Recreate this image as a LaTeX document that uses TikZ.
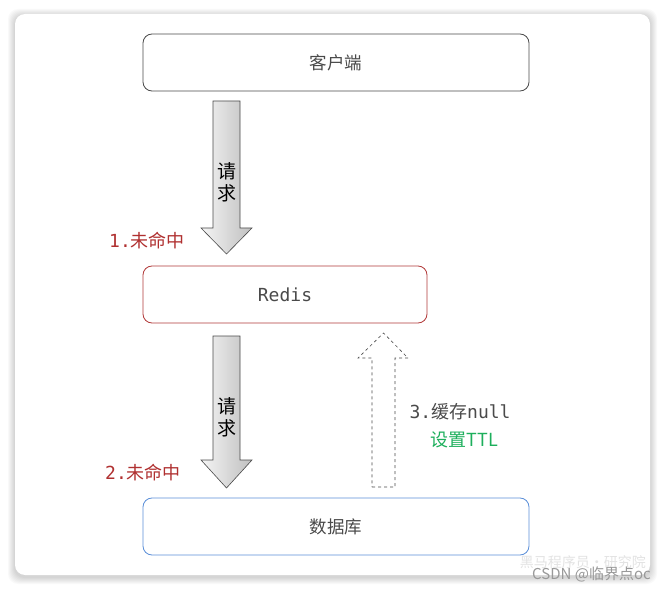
\documentclass[tikz,border=0pt]{standalone}
\usepackage{fontspec}
\setmainfont{Noto Sans CJK SC}
\setmonofont{DejaVu Sans Mono}
\usetikzlibrary{positioning,calc}

\definecolor{boxgray}{HTML}{4A4A4A}
\definecolor{redisred}{HTML}{B23A3A}
\definecolor{dbblue}{HTML}{5B8FD9}
\definecolor{missred}{HTML}{B03030}
\definecolor{ttlgreen}{HTML}{1DAF5C}

\tikzset{
  box/.style={draw=#1, rounded corners=9pt, line width=0.8pt, fill=white,
    minimum height=57pt, inner sep=0pt, font=\fontsize{17.5}{19}\selectfont, text=boxgray},
  bigarrow/.style={draw=boxgray, line width=0.6pt, left color=gray!8, right color=gray!50},
  lbl/.style={font=\fontsize{18}{20}\selectfont}
}

\begin{document}
\begin{tikzpicture}[x=1pt,y=-1pt]
\useasboundingbox (0,0) rectangle (665,591);
\fill[white] (0,0) rectangle (665,591);
% card with soft shadow
\foreach \i in {1,...,7}
  \fill[black,opacity=0.025,rounded corners=10pt] (15-\i,14-\i+2) rectangle (650+\i,575+\i+2);
\fill[white,rounded corners=10pt] (15,14) rectangle (650,575);

% boxes
\node[box=boxgray,minimum width=386pt] (client) at (336,62.5) {客户端};
\node[box=redisred,minimum width=284pt] (redis) at (285,294.5) {\ttfamily\fontsize{18}{20}\selectfont Redis};
\node[box=dbblue,minimum width=386pt] (db) at (336,526.5) {数据库};

% request arrows
\coordinate (req1) at (226.5,101);
\coordinate (tip1) at (226.5,254);
\shadedraw[bigarrow] (req1) ++(-13.5,0) -- ++(27,0) -- ++(0,127) -- ++(12,0) -- (tip1)
  -- ++(-25.5,-26) -- ++(12,0) -- cycle;
\node[align=center,inner sep=0pt,font=\fontsize{19}{22}\selectfont] (ask1) at (226.5,182) {请\\求};

\coordinate (req2) at (226.5,336);
\coordinate (tip2) at (226.5,488);
\shadedraw[bigarrow] (req2) ++(-13.5,0) -- ++(27,0) -- ++(0,124) -- ++(12,0) -- (tip2)
  -- ++(-25.5,-28) -- ++(12,0) -- cycle;
\node[align=center,inner sep=0pt,font=\fontsize{19}{22}\selectfont] (ask2) at (226.5,417) {请\\求};

% cache null arrow
\coordinate (back) at (383.5,487);
\coordinate (tip3) at (383.5,333);
\draw[dashed,boxgray,line width=0.6pt] (back) ++(-11.5,0) -- ++(23,0) -- ++(0,-129) -- ++(13,0) -- (tip3)
  -- ++(-25.5,25) -- ++(14,0) -- cycle;

% labels
\node[lbl,text=missred] (miss1) at (147,241) {\ttfamily 1.\rmfamily 未命中};
\node[lbl,text=missred] (miss2) at (143,473) {\ttfamily 2.\rmfamily 未命中};
\node[lbl,text=boxgray,anchor=west] (cache) at (406,412) {\ttfamily 3.\rmfamily 缓存\ttfamily null};
\node[lbl,text=ttlgreen,anchor=west] (ttl) at (427,440) {设置TTL};

% watermark
\node[text=gray!22,font=\fontsize{14}{15}\selectfont,anchor=east,inner sep=0pt] (wm1) at (646,562) {黑马程序员·研究院};
\node[text=gray!80,font=\fontsize{15}{16}\selectfont,anchor=east,inner sep=0pt] (wm2) at (651,574) {CSDN @临界点oc};
\end{tikzpicture}
\end{document}
